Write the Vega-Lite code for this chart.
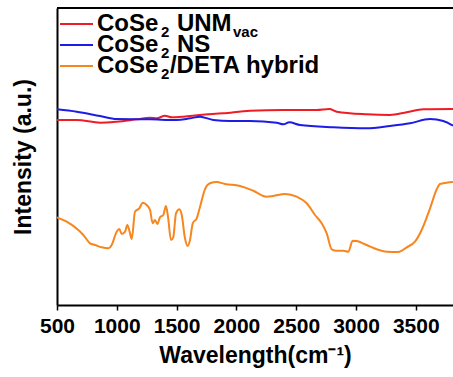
{
  "$schema": "https://vega.github.io/schema/vega-lite/v6.json",
  "autosize": {"type": "none"},
  "padding": {"left": 57, "top": 8, "right": 0, "bottom": 72},
  "width": 396,
  "height": 297,
  "config": {
    "font": "Liberation Sans",
    "view": {"stroke": null},
    "axis": {"grid": false, "domainColor": "black", "domainWidth": 2, "tickColor": "black", "labelColor": "black", "titleColor": "black"}
  },
  "layer": [
    {
      "data": {"values": [
        {"series": "UNM", "wavenumber": 500, "intensity": 185},
        {"series": "UNM", "wavenumber": 665, "intensity": 185},
        {"series": "UNM", "wavenumber": 860, "intensity": 182.3},
        {"series": "UNM", "wavenumber": 999, "intensity": 183.3},
        {"series": "UNM", "wavenumber": 1166, "intensity": 185.7},
        {"series": "UNM", "wavenumber": 1278, "intensity": 187.3},
        {"series": "UNM", "wavenumber": 1334, "intensity": 186.7},
        {"series": "UNM", "wavenumber": 1403, "intensity": 189.3},
        {"series": "UNM", "wavenumber": 1459, "intensity": 187.7},
        {"series": "UNM", "wavenumber": 1556, "intensity": 188.3},
        {"series": "UNM", "wavenumber": 1696, "intensity": 190},
        {"series": "UNM", "wavenumber": 1890, "intensity": 191.7},
        {"series": "UNM", "wavenumber": 2114, "intensity": 194.3},
        {"series": "UNM", "wavenumber": 2392, "intensity": 195},
        {"series": "UNM", "wavenumber": 2671, "intensity": 195},
        {"series": "UNM", "wavenumber": 2777, "intensity": 196},
        {"series": "UNM", "wavenumber": 2839, "intensity": 193.3},
        {"series": "UNM", "wavenumber": 3089, "intensity": 190.7},
        {"series": "UNM", "wavenumber": 3284, "intensity": 190},
        {"series": "UNM", "wavenumber": 3424, "intensity": 192.7},
        {"series": "UNM", "wavenumber": 3563, "intensity": 195.7},
        {"series": "UNM", "wavenumber": 3811, "intensity": 196},
        {"series": "NS", "wavenumber": 500, "intensity": 195.7},
        {"series": "NS", "wavenumber": 665, "intensity": 193.3},
        {"series": "NS", "wavenumber": 860, "intensity": 189},
        {"series": "NS", "wavenumber": 999, "intensity": 186},
        {"series": "NS", "wavenumber": 1278, "intensity": 185.7},
        {"series": "NS", "wavenumber": 1501, "intensity": 185},
        {"series": "NS", "wavenumber": 1612, "intensity": 186.7},
        {"series": "NS", "wavenumber": 1696, "intensity": 188.3},
        {"series": "NS", "wavenumber": 1807, "intensity": 185},
        {"series": "NS", "wavenumber": 1946, "intensity": 184},
        {"series": "NS", "wavenumber": 2114, "intensity": 184},
        {"series": "NS", "wavenumber": 2337, "intensity": 182.3},
        {"series": "NS", "wavenumber": 2392, "intensity": 180.7},
        {"series": "NS", "wavenumber": 2442, "intensity": 182.7},
        {"series": "NS", "wavenumber": 2532, "intensity": 180},
        {"series": "NS", "wavenumber": 2810, "intensity": 177.7},
        {"series": "NS", "wavenumber": 3089, "intensity": 176.7},
        {"series": "NS", "wavenumber": 3284, "intensity": 179},
        {"series": "NS", "wavenumber": 3451, "intensity": 181.7},
        {"series": "NS", "wavenumber": 3619, "intensity": 186},
        {"series": "NS", "wavenumber": 3730, "intensity": 184},
        {"series": "NS", "wavenumber": 3811, "intensity": 179.3},
        {"series": "DETA", "wavenumber": 500, "intensity": 87.7},
        {"series": "DETA", "wavenumber": 581, "intensity": 83.3},
        {"series": "DETA", "wavenumber": 678, "intensity": 75},
        {"series": "DETA", "wavenumber": 720, "intensity": 70},
        {"series": "DETA", "wavenumber": 776, "intensity": 61.7},
        {"series": "DETA", "wavenumber": 818, "intensity": 60},
        {"series": "DETA", "wavenumber": 874, "intensity": 57.7},
        {"series": "DETA", "wavenumber": 929, "intensity": 56.7},
        {"series": "DETA", "wavenumber": 957, "intensity": 60},
        {"series": "DETA", "wavenumber": 999, "intensity": 73.3},
        {"series": "DETA", "wavenumber": 1021, "intensity": 76},
        {"series": "DETA", "wavenumber": 1041, "intensity": 71},
        {"series": "DETA", "wavenumber": 1069, "intensity": 73.3},
        {"series": "DETA", "wavenumber": 1088, "intensity": 80},
        {"series": "DETA", "wavenumber": 1105, "intensity": 74.3},
        {"series": "DETA", "wavenumber": 1125, "intensity": 66},
        {"series": "DETA", "wavenumber": 1152, "intensity": 93.3},
        {"series": "DETA", "wavenumber": 1188, "intensity": 96.7},
        {"series": "DETA", "wavenumber": 1217, "intensity": 102.3},
        {"series": "DETA", "wavenumber": 1250, "intensity": 100},
        {"series": "DETA", "wavenumber": 1278, "intensity": 95},
        {"series": "DETA", "wavenumber": 1300, "intensity": 81.7},
        {"series": "DETA", "wavenumber": 1319, "intensity": 85},
        {"series": "DETA", "wavenumber": 1339, "intensity": 81},
        {"series": "DETA", "wavenumber": 1361, "intensity": 87.7},
        {"series": "DETA", "wavenumber": 1389, "intensity": 90},
        {"series": "DETA", "wavenumber": 1411, "intensity": 99},
        {"series": "DETA", "wavenumber": 1428, "intensity": 88.3},
        {"series": "DETA", "wavenumber": 1453, "intensity": 65},
        {"series": "DETA", "wavenumber": 1472, "intensity": 67.7},
        {"series": "DETA", "wavenumber": 1495, "intensity": 91.7},
        {"series": "DETA", "wavenumber": 1523, "intensity": 95.7},
        {"series": "DETA", "wavenumber": 1543, "intensity": 90},
        {"series": "DETA", "wavenumber": 1570, "intensity": 66.7},
        {"series": "DETA", "wavenumber": 1593, "intensity": 59},
        {"series": "DETA", "wavenumber": 1612, "intensity": 65},
        {"series": "DETA", "wavenumber": 1635, "intensity": 81.7},
        {"series": "DETA", "wavenumber": 1668, "intensity": 86.7},
        {"series": "DETA", "wavenumber": 1696, "intensity": 98.3},
        {"series": "DETA", "wavenumber": 1737, "intensity": 115.7},
        {"series": "DETA", "wavenumber": 1779, "intensity": 121.7},
        {"series": "DETA", "wavenumber": 1835, "intensity": 123},
        {"series": "DETA", "wavenumber": 1905, "intensity": 121},
        {"series": "DETA", "wavenumber": 2030, "intensity": 119},
        {"series": "DETA", "wavenumber": 2141, "intensity": 114.3},
        {"series": "DETA", "wavenumber": 2253, "intensity": 108.3},
        {"series": "DETA", "wavenumber": 2308, "intensity": 109},
        {"series": "DETA", "wavenumber": 2406, "intensity": 111},
        {"series": "DETA", "wavenumber": 2504, "intensity": 108.3},
        {"series": "DETA", "wavenumber": 2588, "intensity": 101.7},
        {"series": "DETA", "wavenumber": 2657, "intensity": 90},
        {"series": "DETA", "wavenumber": 2713, "intensity": 81.7},
        {"series": "DETA", "wavenumber": 2755, "intensity": 71.7},
        {"series": "DETA", "wavenumber": 2797, "intensity": 55.7},
        {"series": "DETA", "wavenumber": 2839, "intensity": 54.3},
        {"series": "DETA", "wavenumber": 2894, "intensity": 54.3},
        {"series": "DETA", "wavenumber": 2936, "intensity": 53.3},
        {"series": "DETA", "wavenumber": 2972, "intensity": 64.3},
        {"series": "DETA", "wavenumber": 3006, "intensity": 64},
        {"series": "DETA", "wavenumber": 3089, "intensity": 60},
        {"series": "DETA", "wavenumber": 3173, "intensity": 55.7},
        {"series": "DETA", "wavenumber": 3257, "intensity": 53.3},
        {"series": "DETA", "wavenumber": 3354, "intensity": 53},
        {"series": "DETA", "wavenumber": 3424, "intensity": 57.7},
        {"series": "DETA", "wavenumber": 3493, "intensity": 63.3},
        {"series": "DETA", "wavenumber": 3549, "intensity": 75},
        {"series": "DETA", "wavenumber": 3619, "intensity": 96.7},
        {"series": "DETA", "wavenumber": 3675, "intensity": 115.7},
        {"series": "DETA", "wavenumber": 3702, "intensity": 121},
        {"series": "DETA", "wavenumber": 3758, "intensity": 122.3},
        {"series": "DETA", "wavenumber": 3811, "intensity": 123}
      ]},
      "mark": {"type": "line", "strokeWidth": 2, "interpolate": "monotone", "clip": true},
      "encoding": {
        "x": {
          "field": "wavenumber", "type": "quantitative",
          "scale": {"domain": [500, 3811], "nice": false, "zero": false},
          "axis": {
            "title": "Wavelength(cm⁻¹)",
            "values": [500, 750, 1000, 1250, 1500, 1750, 2000, 2250, 2500, 2750, 3000, 3250, 3500, 3750],
            "format": "d",
            "labelExpr": "datum.value % 500 === 0 ? datum.label : ''",
            "tickSize": 5, "tickWidth": 1.5,
            "labelFontSize": 21, "labelFontWeight": "bold", "labelPadding": 5,
            "labelFlush": false, "labelOverlap": false,
            "titleFontSize": 23, "titleFontWeight": "bold", "titlePadding": 8
          }
        },
        "y": {
          "field": "intensity", "type": "quantitative",
          "scale": {"domain": [0, 297], "nice": false, "zero": false},
          "axis": {
            "title": "Intensity (a.u.)", "labels": false, "ticks": false,
            "titleFontSize": 23, "titleFontWeight": "bold", "titlePadding": 22
          }
        },
        "color": {
          "field": "series", "type": "nominal",
          "scale": {"domain": ["UNM", "NS", "DETA"], "range": ["#ee1c24", "#1c1ce6", "#f7861e"]},
          "legend": null
        },
        "order": {"field": "wavenumber", "type": "quantitative"}
      }
    },
    {
      "data": {"values": [{}]},
      "mark": {"type": "rule", "color": "black", "strokeWidth": 2},
      "encoding": {"y": {"datum": 297}}
    },
    {
      "data": {"values": [{}]},
      "mark": {"type": "rule", "color": "#ee1c24", "strokeWidth": 2},
      "encoding": {"x": {"datum": 525}, "x2": {"datum": 801}, "y": {"datum": 281}}
    },
    {
      "data": {"values": [{}]},
      "mark": {"type": "rule", "color": "#1c1ce6", "strokeWidth": 2},
      "encoding": {"x": {"datum": 525}, "x2": {"datum": 801}, "y": {"datum": 260}}
    },
    {
      "data": {"values": [{}]},
      "mark": {"type": "rule", "color": "#f7861e", "strokeWidth": 2},
      "encoding": {"x": {"datum": 525}, "x2": {"datum": 801}, "y": {"datum": 239}}
    },
    {
      "data": {"values": [{}]},
      "mark": {"type": "text", "align": "left", "baseline": "middle", "fontSize": 24, "fontWeight": "bold", "color": "black", "lineHeight": 21, "text": ["CoSe", "CoSe", "CoSe"]},
      "encoding": {"x": {"datum": 834}, "y": {"datum": 281}}
    },
    {
      "data": {"values": [{}]},
      "mark": {"type": "text", "align": "left", "baseline": "middle", "fontSize": 15, "fontWeight": "bold", "color": "black", "lineHeight": 21, "dx": 64, "dy": 8, "text": ["2", "2", "2"]},
      "encoding": {"x": {"datum": 834}, "y": {"datum": 281}}
    },
    {
      "data": {"values": [{}]},
      "mark": {"type": "text", "align": "left", "baseline": "middle", "fontSize": 24, "fontWeight": "bold", "color": "black", "lineHeight": 21, "dx": 80, "text": ["UNM", "NS"]},
      "encoding": {"x": {"datum": 834}, "y": {"datum": 281}}
    },
    {
      "data": {"values": [{}]},
      "mark": {"type": "text", "align": "left", "baseline": "middle", "fontSize": 15, "fontWeight": "bold", "color": "black", "dx": 136, "dy": 8, "text": "vac"},
      "encoding": {"x": {"datum": 834}, "y": {"datum": 281}}
    },
    {
      "data": {"values": [{}]},
      "mark": {"type": "text", "align": "left", "baseline": "middle", "fontSize": 24, "fontWeight": "bold", "color": "black", "dx": 73, "text": "/DETA hybrid"},
      "encoding": {"x": {"datum": 834}, "y": {"datum": 239}}
    }
  ]
}
